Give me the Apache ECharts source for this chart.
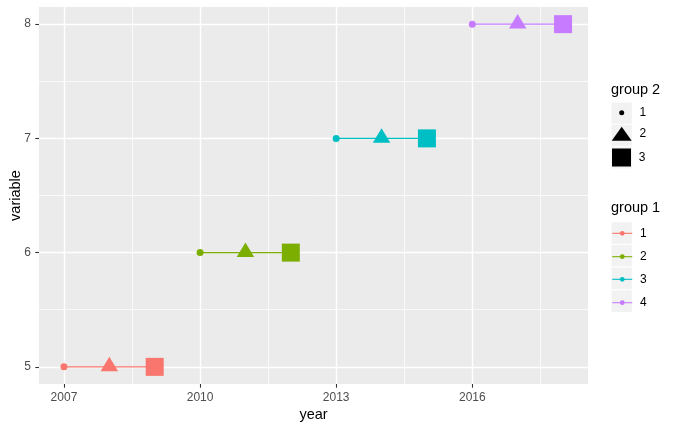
<!DOCTYPE html>
<html><head><meta charset="utf-8">
<script src="https://cdn.jsdelivr.net/npm/echarts@6/dist/echarts.min.js"></script>
<style>html,body{margin:0;padding:0;background:#fff}#c{width:674px;height:430px}</style>
</head><body><div id="c"></div>
<script>
// ---- data ----
const group1 = ['1', '2', '3', '4'];
const group2 = ['1', '2', '3'];
const groupColors = ['#F8766D', '#7CAE00', '#00BFC4', '#C77CFF'];
const years = [[2007, 2008, 2009], [2010, 2011, 2012], [2013, 2014, 2015], [2016, 2017, 2018]];
const variableValues = [5, 6, 7, 8];
const xTicks = [2007, 2010, 2013, 2016];
const xMinor = [2008.5, 2011.5, 2014.5, 2017.5];
const yTicks = [5, 6, 7, 8];
const yMinor = [5.5, 6.5, 7.5];
const xRange = [2006.45, 2018.55];
const yRange = [4.85, 8.15];

// ---- styles ----
const FONT = "'Liberation Sans', Arial, sans-serif";
const shapes = ['circle', 'triangle', 'rect'];
const shapeSizes = [7, [17.5, 14.5], [18, 18]];
const shapeOffsets = [[0, 0], [0, -2.8], [0, 0]];

const series = [];
// panel grid lines (white) drawn through the axes
const gridLines = [];
xMinor.forEach(v => gridLines.push({ xAxis: v, lineStyle: { color: '#fff', width: 0.7, type: 'solid' } }));
yMinor.forEach(v => gridLines.push({ yAxis: v, lineStyle: { color: '#fff', width: 0.7, type: 'solid' } }));
xTicks.forEach(v => gridLines.push({ xAxis: v, lineStyle: { color: '#fff', width: 1.4, type: 'solid' } }));
yTicks.forEach(v => gridLines.push({ yAxis: v, lineStyle: { color: '#fff', width: 1.4, type: 'solid' } }));
series.push({
  type: 'line', name: '__grid', data: [], silent: true, z: 1, animation: false,
  markLine: { silent: true, z: 1, symbol: 'none', label: { show: false }, emphasis: { disabled: true }, animation: false, data: gridLines }
});

group1.forEach((g, i) => {
  series.push({
    type: 'line', name: 'g1_' + g, z: 3, animation: false,
    symbol: 'circle', showSymbol: true,
    color: groupColors[i],
    lineStyle: { color: groupColors[i], width: 1.1 },
    itemStyle: { color: groupColors[i], opacity: 1 },
    emphasis: { disabled: true },
    data: years[i].map((yr, j) => ({
      value: [yr, variableValues[i]],
      symbol: shapes[j], symbolSize: shapeSizes[j], symbolOffset: shapeOffsets[j]
    }))
  });
});
group2.forEach((g, j) => {
  series.push({ type: 'scatter', name: 'g2_' + g, data: [], itemStyle: { color: '#000', opacity: 1 }, symbol: shapes[j] });
});

const legendText = { color: '#000', fontSize: 12, fontFamily: FONT, padding: [0, 0, 0, 2.7] };
const fmt = n => n.split('_')[1];
const legendBase = {
  orient: 'vertical', padding: 0, itemGap: 0, selectedMode: false, formatter: fmt, textStyle: legendText,
  itemStyle: { opacity: 1 }, lineStyle: { width: 1.1 }
};
const g2Box = [[20, 5], [20, 14], [19, 18]];
const g2Left = [619.2, 611.7, 612];
const g2Top = [106.8, 126.7, 148.5];
const g1Top = [227.3, 250.7, 273.3, 296.7];
const legends = [];
group2.forEach((g, j) => legends.push(Object.assign({}, legendBase, {
  data: [{ name: 'g2_' + g, icon: shapes[j] }],
  itemWidth: g2Box[j][0], itemHeight: g2Box[j][1], left: g2Left[j], top: g2Top[j], symbolKeepAspect: false
})));
group1.forEach((g, i) => legends.push(Object.assign({}, legendBase, {
  data: ['g1_' + g], itemWidth: 20, itemHeight: 6, left: 611.7, top: g1Top[i]
})));

const keyRects = [];
[102, 124.3, 146.6].forEach(y => keyRects.push({ type: 'rect', silent: true, shape: { x: 611, y: y, width: 21.3, height: 22.3 }, style: { fill: '#F2F2F2', stroke: '#fff', lineWidth: 1 } }));
[221.7, 244.4, 267.1, 289.8].forEach(y => keyRects.push({ type: 'rect', silent: true, shape: { x: 611, y: y, width: 21.3, height: 22.7 }, style: { fill: '#F2F2F2', stroke: '#fff', lineWidth: 1 } }));

const axisCommon = {
  type: 'value', scale: true,
  splitLine: { show: false },
  axisLine: { show: false },
  nameLocation: 'middle', nameMoveOverlap: false,
  nameTextStyle: { color: '#000', fontSize: 14.5, fontFamily: FONT }
};

const option = {
  animation: false,
  backgroundColor: '#fff',
  grid: { left: 39, top: 7, width: 549, height: 377, show: true, backgroundColor: '#EBEBEB', borderWidth: 0, containLabel: false, outerBoundsMode: 'none' },
  xAxis: Object.assign({}, axisCommon, {
    min: xRange[0], max: xRange[1],
    axisTick: { show: true, length: 3.7, lineStyle: { color: '#333333', width: 1.1 }, customValues: xTicks },
    axisLabel: { customValues: xTicks, formatter: v => String(v), color: '#4D4D4D', fontSize: 12, margin: 8, fontFamily: FONT },
    name: 'year', nameGap: 23
  }),
  yAxis: Object.assign({}, axisCommon, {
    min: yRange[0], max: yRange[1],
    axisTick: { show: true, length: 3.7, lineStyle: { color: '#333333', width: 1.1 }, customValues: yTicks },
    axisLabel: { customValues: yTicks, formatter: v => String(v), color: '#4D4D4D', fontSize: 12, margin: 8, fontFamily: FONT },
    name: 'variable', nameGap: 15.5
  }),
  title: [
    { text: 'group 2', left: 611, top: 82, padding: 0, textStyle: { fontSize: 14.5, fontWeight: 'normal', color: '#000', fontFamily: FONT } },
    { text: 'group 1', left: 611, top: 200.7, padding: 0, textStyle: { fontSize: 14.5, fontWeight: 'normal', color: '#000', fontFamily: FONT } }
  ],
  legend: legends,
  graphic: keyRects,
  series: series
};
const chart = echarts.init(document.getElementById('c'), null, { renderer: 'canvas' });
chart.setOption(option);
</script></body></html>
